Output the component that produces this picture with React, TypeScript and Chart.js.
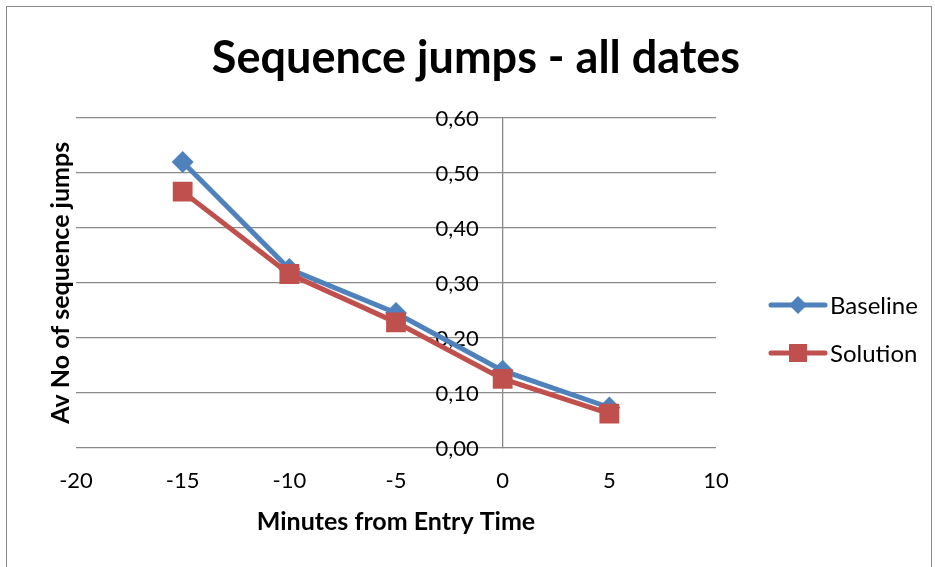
import React, { useEffect, useRef } from "react";
import { Chart, registerables } from "chart.js";

Chart.register(...registerables);

// Minutes relative to entry time and the average number of sequence jumps
const minutes = [-15, -10, -5, 0, 5];
const baseline = [0.52, 0.325, 0.245, 0.14, 0.073];
const solution = [0.466, 0.316, 0.228, 0.125, 0.062];
const seriesNames = ["Baseline", "Solution"];
const seriesColors = ["#4F81BD", "#C0504D"];

const chartTitle = "Sequence jumps - all dates";
const xAxisTitle = "Minutes from Entry Time";
const yAxisTitle = "Av No of sequence jumps";
const xTickMin = -20;
const xTickMax = 10;
const xTickStep = 5;
const yTickMin = 0;
const yTickMax = 0.6;
const yTickStep = 0.1;

const FONT = "Lato, 'Open Sans', sans-serif";

// Decimal comma, two places: 0.3 -> "0,30"
const formatValue = (v: number) => Number(v).toFixed(2).replace(".", ",");

function drawMarker(ctx: CanvasRenderingContext2D, style: string, x: number, y: number, color: string) {
  ctx.fillStyle = color;
  ctx.beginPath();
  if (style === "rectRot") {
    const r = 9;
    ctx.moveTo(x - r, y);
    ctx.lineTo(x, y - r);
    ctx.lineTo(x + r, y);
    ctx.lineTo(x, y + r);
    ctx.closePath();
  } else {
    const h = 9;
    ctx.rect(x - h, y - h, 2 * h, 2 * h);
  }
  ctx.fill();
}

// Value labels beside the crossing y axis, drawn from the y scale's ticks (under the lines)
const yAxisLabels = {
  id: "yAxisLabels",
  beforeDatasetsDraw(chart: any) {
    const { ctx } = chart;
    const xScale = chart.scales.x;
    const yScale = chart.scales.y;
    const axisX = xScale.getPixelForValue(0);
    ctx.save();
    ctx.fillStyle = "#000";
    ctx.font = `22px ${FONT}`;
    ctx.textAlign = "right";
    ctx.textBaseline = "middle";
    yScale.ticks.forEach((t: any) => {
      ctx.fillText(formatValue(t.value), axisX - 24, yScale.getPixelForValue(t.value) + 1);
    });
    ctx.restore();
  },
};

// Chart title, both axis titles and the line-with-marker legend
const decorations = {
  id: "decorations",
  afterDraw(chart: any) {
    const { ctx, chartArea } = chart;
    ctx.save();
    ctx.fillStyle = "#000";
    ctx.textAlign = "center";
    ctx.textBaseline = "middle";
    ctx.font = `bold 45px ${FONT}`;
    ctx.fillText(chartTitle, 476, 58);

    ctx.font = `bold 25px ${FONT}`;
    ctx.fillText(xAxisTitle, (chartArea.left + chartArea.right) / 2, 522);

    ctx.save();
    ctx.translate(61, (chartArea.top + chartArea.bottom) / 2);
    ctx.rotate(-Math.PI / 2);
    ctx.fillText(yAxisTitle, 0, 0);
    ctx.restore();

    chart.data.datasets.forEach((ds: any, i: number) => {
      const y = 305 + i * 48;
      ctx.strokeStyle = ds.borderColor;
      ctx.lineWidth = 5;
      ctx.lineCap = "round";
      ctx.beginPath();
      ctx.moveTo(771, y);
      ctx.lineTo(825, y);
      ctx.stroke();
      drawMarker(ctx, ds.pointStyle, 798, y, ds.borderColor);
      ctx.fillStyle = "#000";
      ctx.textAlign = "left";
      ctx.font = `24px ${FONT}`;
      ctx.fillText(ds.label, 830, y + 1);
    });
    ctx.restore();
  },
};

export default function App() {
  const canvasRef = useRef<HTMLCanvasElement | null>(null);

  useEffect(() => {
    if (!canvasRef.current) return;
    const tickFont = { family: FONT, size: 22 };
    const chart = new Chart(canvasRef.current, {
      type: "line",
      data: {
        datasets: [
          {
            label: seriesNames[0],
            data: minutes.map((m, i) => ({ x: m, y: baseline[i] })),
            borderColor: seriesColors[0],
            backgroundColor: seriesColors[0],
            pointBackgroundColor: seriesColors[0],
            pointBorderColor: seriesColors[0],
            borderWidth: 5,
            pointStyle: "rectRot",
            pointRadius: 11,
            pointBorderWidth: 0,
            order: 1,
          },
          {
            label: seriesNames[1],
            data: minutes.map((m, i) => ({ x: m, y: solution[i] })),
            borderColor: seriesColors[1],
            backgroundColor: seriesColors[1],
            pointBackgroundColor: seriesColors[1],
            pointBorderColor: seriesColors[1],
            borderWidth: 5,
            pointStyle: "rect",
            pointRadius: 14,
            pointBorderWidth: 0,
            order: 0,
          },
        ],
      },
      options: {
        animation: false,
        responsive: false,
        layout: { padding: { left: 76, right: 219, top: 118, bottom: 53 } },
        plugins: {
          legend: { display: false },
          title: { display: false },
          tooltip: { enabled: false },
        },
        scales: {
          x: {
            type: "linear",
            min: xTickMin,
            max: xTickMax,
            ticks: { stepSize: xTickStep, color: "#000", font: tickFont, padding: 20 },
            grid: { display: false, drawTicks: false },
            border: { display: false },
          },
          y: {
            type: "linear",
            position: { x: 0 },
            min: yTickMin,
            max: yTickMax,
            ticks: {
              display: false,
              stepSize: yTickStep,
              callback: (v: any) => formatValue(v),
            },
            grid: { color: "#8a8a8a", lineWidth: 1.3, drawTicks: false },
            border: { display: true, color: "#8a8a8a", width: 1.3 },
          },
        },
      },
      plugins: [yAxisLabels, decorations],
    } as any);
    return () => chart.destroy();
  }, []);

  return (
    <div style={{ position: "fixed", left: 0, top: 0, width: 935, height: 567, background: "#fff" }}>
      <div
        style={{
          position: "absolute",
          left: 6,
          top: 6,
          width: 926,
          height: 600,
          border: "1.5px solid #8a8a8a",
          boxSizing: "border-box",
        }}
      />
      <canvas
        ref={canvasRef}
        width={935}
        height={567}
        style={{ position: "absolute", left: 0, top: 0, display: "block" }}
      />
    </div>
  );
}
